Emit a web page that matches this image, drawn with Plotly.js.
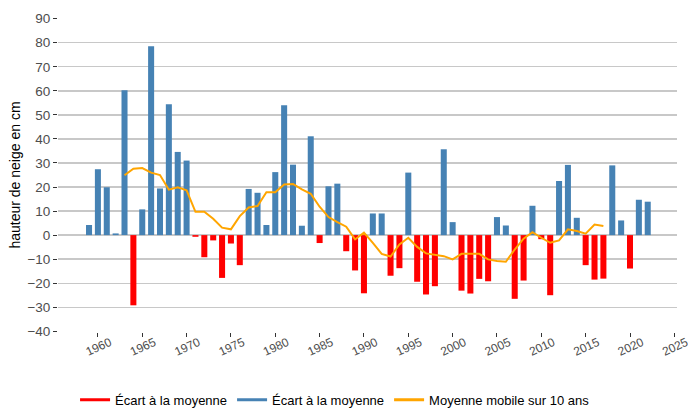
<!DOCTYPE html>
<html><head><meta charset="utf-8">
<script src="https://cdn.plot.ly/plotly-3.0.1.min.js"></script>
<style>html,body{margin:0;padding:0;background:#fff}#chart{width:688px;height:408px}</style>
</head><body><div id="chart"></div>
<script>
const years = [1959,1960,1961,1962,1963,1964,1965,1966,1967,1968,1969,1970,1971,1972,1973,1974,1975,1976,1977,1978,1979,1980,1981,1982,1983,1984,1985,1986,1987,1988,1989,1990,1991,1992,1993,1994,1995,1996,1997,1998,1999,2000,2001,2002,2003,2004,2005,2006,2007,2008,2009,2010,2011,2012,2013,2014,2015,2016,2017,2018,2019,2020,2021,2022];
const ecart = [4.2,27.4,19.9,0.7,60.3,-29.2,10.7,78.5,19.4,54.4,34.6,31.0,-0.7,-9.2,-2.2,-17.8,-3.5,-12.5,19.2,17.6,4.2,26.2,54.0,29.3,3.9,41.1,-3.3,20.3,21.4,-6.7,-14.7,-24.2,9.0,9.0,-16.9,-13.75,26.0,-19.4,-24.7,-21.25,35.7,5.4,-23.1,-24.3,-18.2,-19.2,7.5,4.0,-26.5,-18.9,12.2,-1.7,-25.0,22.5,29.2,7.2,-12.5,-18.5,-18.1,29.0,6.1,-13.9,14.7,13.9];
const maYears = [1963,1964,1965,1966,1967,1968,1969,1970,1971,1972,1973,1974,1975,1976,1977,1978,1979,1980,1981,1982,1983,1984,1985,1986,1987,1988,1989,1990,1991,1992,1993,1994,1995,1996,1997,1998,1999,2000,2001,2002,2003,2004,2005,2006,2007,2008,2009,2010,2011,2012,2013,2014,2015,2016,2017];
const maValues = [24.9,27.6,27.9,26.0,25.0,18.9,19.9,18.6,9.7,9.7,6.8,3.1,2.4,7.9,11.5,12.1,17.8,17.8,21.1,21.25,19.0,17.2,11.8,7.5,5.4,3.5,-1.8,1.0,-3.2,-7.8,-8.9,-3.9,-1.1,-4.9,-7.6,-8.1,-8.75,-10.1,-7.8,-7.8,-7.8,-10.1,-10.8,-11.1,-6.0,-1.5,1.25,-1.1,-3.2,-2.2,2.4,1.7,0.6,4.4,3.75];
const xTicks = [1960,1965,1970,1975,1980,1985,1990,1995,2000,2005,2010,2015,2020,2025];
const yTicks = [-40,-30,-20,-10,0,10,20,30,40,50,60,70,80,90];
const seriesName = 'Écart à la moyenne';
const maName = 'Moyenne mobile sur 10 ans';

const RED = '#ff0000', BLUE = '#4682b4', ORANGE = '#ffa500';
const FONT = 'Liberation Sans, Arial, sans-serif';

const neg = ecart.map(v => v < 0 ? v : null);
const pos = ecart.map(v => v >= 0 ? v : null);

const traces = [
  {type:'bar', x:years, y:neg, width:0.68, marker:{color:RED}, showlegend:false, hoverinfo:'x+y'},
  {type:'bar', x:years, y:pos, width:0.68, marker:{color:BLUE}, showlegend:false, hoverinfo:'x+y'},
  {type:'scatter', mode:'lines', x:maYears, y:maValues, line:{color:ORANGE, width:2}, showlegend:false},
  {type:'scatter', mode:'lines', x:[null], y:[null], name:seriesName, line:{color:RED, width:3}},
  {type:'scatter', mode:'lines', x:[null], y:[null], name:seriesName, line:{color:BLUE, width:3}},
  {type:'scatter', mode:'lines', x:[null], y:[null], name:maName, line:{color:ORANGE, width:3}}
];

const shapes = xTicks.map(v => ({type:'line', xref:'x', yref:'paper', x0:v, x1:v, y0:0, y1:1,
  line:{color:'#ffffff', width:1.5}, layer:'between'}));

const layout = {
  width:688, height:408,
  margin:{l:58, r:11, t:18, b:76},
  paper_bgcolor:'#fff', plot_bgcolor:'#fff',
  font:{family:FONT, color:'#000'},
  barmode:'overlay',
  showlegend:true,
  legend:{orientation:'h', xref:'container', yref:'container', x:0.487, xanchor:'center', y:0.02, yanchor:'middle',
    font:{size:13, color:'#000', family:FONT}, traceorder:'normal', bgcolor:'rgba(0,0,0,0)'},
  xaxis:{range:[1955.5, 2025.3], tickvals:xTicks, ticks:'outside', ticklen:4, tickwidth:1, tickcolor:'#333',
    tickangle:-25, ticklabelshift:12, ticklabelstandoff:-6, ticklabeloverflow:'allow',
    showgrid:false, zeroline:false, showline:false,
    tickfont:{size:12, color:'#4d4d4d', family:FONT}, fixedrange:true},
  yaxis:{range:[-40.3, 90.3], tickvals:yTicks, ticks:'outside', ticklen:4, tickwidth:1, tickcolor:'#333',
    gridcolor:'#c8c8c8', gridwidth:1.3, zeroline:false, showline:false,
    tickfont:{size:13.5, color:'#4d4d4d', family:FONT},
    title:{text:'hauteur de neige en cm', font:{size:14, color:'#000', family:FONT}, standoff:3}, fixedrange:true},
  shapes:shapes
};

Plotly.newPlot('chart', traces, layout, {displayModeBar:false, staticPlot:true});
</script>
</body></html>
